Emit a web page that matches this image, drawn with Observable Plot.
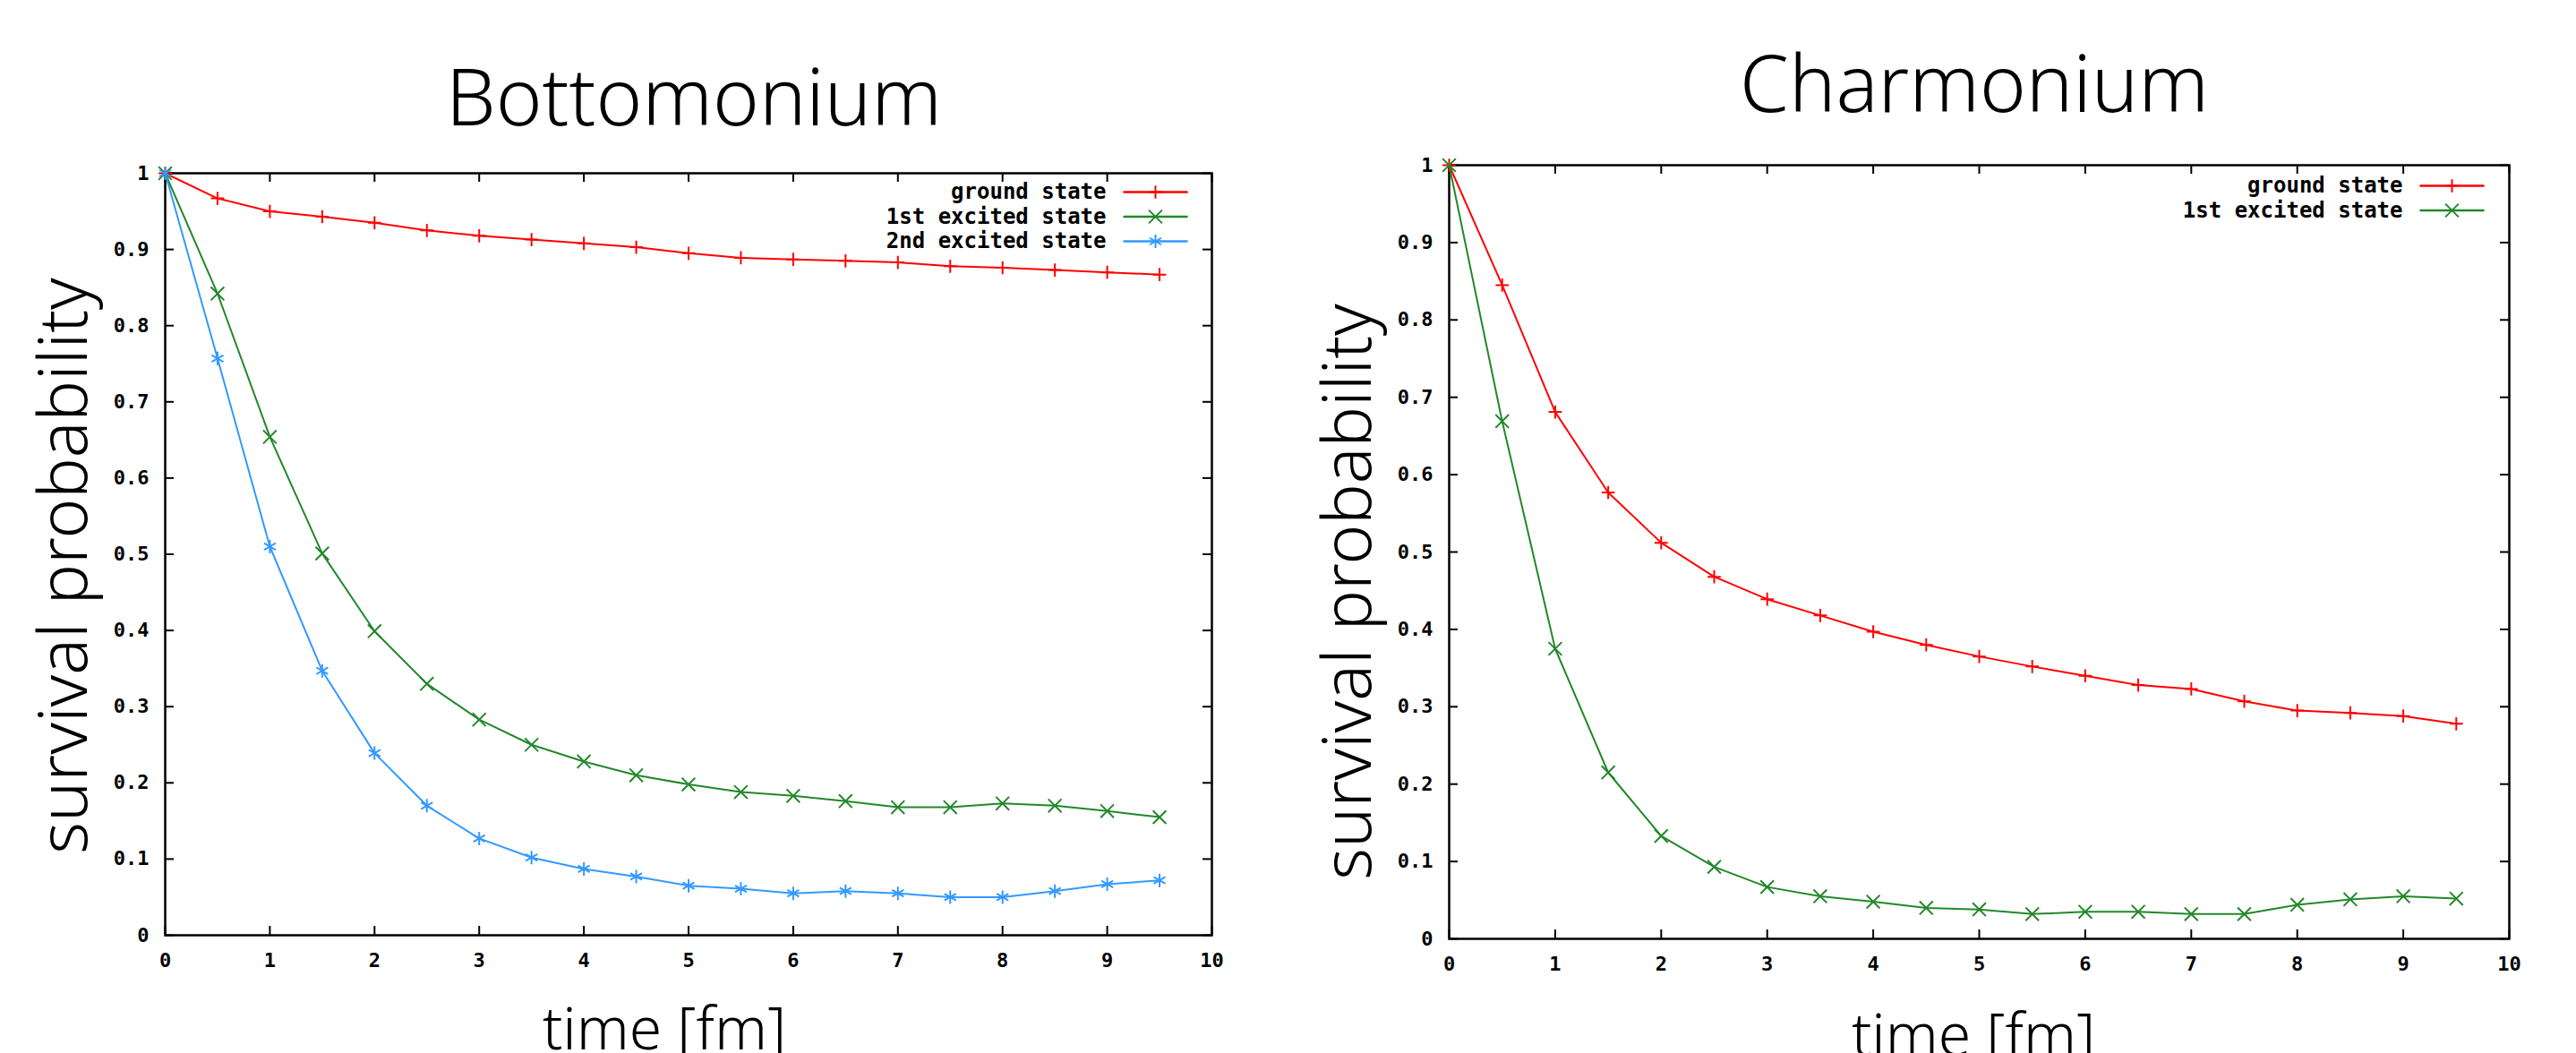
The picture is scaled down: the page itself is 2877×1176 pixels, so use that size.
<!DOCTYPE html>
<html><head><meta charset="utf-8">
<script src="https://cdn.jsdelivr.net/npm/d3@7"></script>
<script src="https://cdn.jsdelivr.net/npm/@observablehq/plot@0.6"></script>
<style>
html,body{margin:0;padding:0;background:#fff;}
#page{position:relative;width:2877px;height:1176px;overflow:hidden;background:#fff;}
.chart{position:absolute;top:0;}
#labels{position:absolute;left:0;top:0;}
#labels text{font-family:"Noto Sans","Open Sans",sans-serif;font-weight:300;fill:#000;}
</style></head><body><div id="page"></div>
<script>
// ---- data ----
const times = [0,0.5,1,1.5,2,2.5,3,3.5,4,4.5,5,5.5,6,6.5,7,7.5,8,8.5,9,9.5];
const bottomGround = [1,0.967,0.950,0.943,0.935,0.925,0.918,0.913,0.908,0.903,0.895,0.889,0.887,0.885,0.883,0.878,0.876,0.873,0.870,0.867];
const bottomFirst  = [1,0.842,0.654,0.501,0.399,0.330,0.283,0.250,0.228,0.210,0.198,0.188,0.183,0.176,0.168,0.168,0.173,0.170,0.163,0.155];
const bottomSecond = [1,0.757,0.510,0.347,0.239,0.170,0.127,0.102,0.087,0.077,0.065,0.061,0.055,0.058,0.055,0.050,0.050,0.058,0.067,0.072];
const charmGround  = [1,0.845,0.681,0.577,0.512,0.468,0.439,0.418,0.397,0.380,0.365,0.352,0.340,0.328,0.323,0.307,0.295,0.292,0.288,0.278];
const charmFirst   = [1,0.669,0.375,0.215,0.133,0.093,0.067,0.055,0.048,0.040,0.038,0.032,0.035,0.035,0.032,0.032,0.044,0.051,0.055,0.052];
const seriesNames = ["ground state","1st excited state","2nd excited state"];
const seriesColors = ["#ff0000","#22882a","#3399ff"];
const seriesSymbols = ["plus","times","asterisk"];
const symbolR = [4.8, 6.8, 7.1];
const xTicks = [0,1,2,3,4,5,6,7,8,9,10];
const yTicks = [0,0.1,0.2,0.3,0.4,0.5,0.6,0.7,0.8,0.9,1];
const titles = ["Bottomonium","Charmonium"];
const xLabel = "time [fm]";
const yLabel = "survival probability";

const lineShape = {draw(ctx, l) { ctx.moveTo(0, 0); ctx.lineTo(0, -l); }};

function tidy(arrays) {
  const rows = [];
  arrays.forEach((vals, s) => vals.forEach((v, i) => rows.push({t: times[i], p: v, s})));
  return rows;
}

function makeChart(arrays, cfg) {
  const rows = tidy(arrays);
  const fw = cfg.width - cfg.ml - cfg.mr, fh = cfg.height - cfg.mt - cfg.mb;
  const tick = 10;
  const mono = {fontSize: 22, fontWeight: "bold", fontFamily: "DejaVu Sans Mono"};
  const marks = [
    Plot.frame({stroke: "#000", strokeWidth: 2.5}),
    Plot.tickX(xTicks, {x: d => d, insetTop: fh - tick, stroke: "#000", strokeWidth: 2}),
    Plot.tickX(xTicks, {x: d => d, insetBottom: fh - tick, stroke: "#000", strokeWidth: 2}),
    Plot.tickY(yTicks, {y: d => d, insetRight: fw - tick, stroke: "#000", strokeWidth: 2}),
    Plot.tickY(yTicks, {y: d => d, insetLeft: fw - tick, stroke: "#000", strokeWidth: 2}),
    Plot.axisX(xTicks, {tickSize: 0, tickPadding: cfg.xpad, label: null, tickFormat: d => String(d), ...mono}),
    Plot.axisY(yTicks, {tickSize: 0, tickPadding: cfg.ypad, label: null,
      tickFormat: d => (d === 0 || d === 1) ? String(d) : d.toFixed(1), ...mono}),
  ];
  arrays.forEach((_, s) => {
    const data = rows.filter(r => r.s === s);
    marks.push(Plot.line(data, {x: "t", y: "p", stroke: seriesColors[s], strokeWidth: 2}));
    marks.push(Plot.dot(data, {x: "t", y: "p", symbol: () => seriesSymbols[s], stroke: seriesColors[s], strokeWidth: 2, r: symbolR[s]}));
    // legend
    const dy = cfg.legDy0 + cfg.legStep * s;
    marks.push(Plot.text([seriesNames[s]], {text: d => d, frameAnchor: "top-right", dx: cfg.legText, dy, textAnchor: "end", lineAnchor: "middle",
      fontSize: 24, fontWeight: "bold", fontFamily: "DejaVu Sans Mono", fill: "#000"}));
    marks.push(Plot.vector([0], {frameAnchor: "top-right", dx: cfg.legMid, dy, length: 70, rotate: 90, shape: lineShape, stroke: seriesColors[s], strokeWidth: 2.5}));
    marks.push(Plot.dot([0], {frameAnchor: "top-right", dx: cfg.legMid, dy, symbol: seriesSymbols[s], stroke: seriesColors[s], strokeWidth: 2, r: symbolR[s]}));
  });
  const svg = Plot.plot({
    width: cfg.width, height: cfg.height,
    marginLeft: cfg.ml, marginRight: cfg.mr, marginTop: cfg.mt, marginBottom: cfg.mb,
    x: {domain: [0, 10]}, y: {domain: [0, 1]},
    style: {background: "transparent", fontFamily: "DejaVu Sans Mono", fontSize: "22px", color: "#000", overflow: "visible"},
    marks
  });
  svg.classList.add("chart");
  svg.style.left = cfg.left + "px";
  return svg;
}

const page = document.getElementById("page");
page.appendChild(makeChart([bottomGround, bottomFirst, bottomSecond],
  {left: 0, width: 1420, height: 1110, ml: 184, mr: 67, mt: 193, mb: 66, xpad: 20, ypad: 18, legText: -118, legMid: -63, legDy0: 21, legStep: 27.5}));
page.appendChild(makeChart([charmGround, charmFirst],
  {left: 1440, width: 1437, height: 1110, ml: 178, mr: 75, mt: 184, mb: 62, xpad: 20, ypad: 18, legText: -119, legMid: -64, legDy0: 23, legStep: 27.5}));

// titles and axis titles (outside the plot SVGs)
const NS = "http://www.w3.org/2000/svg";
const lab = document.createElementNS(NS, "svg");
lab.setAttribute("id", "labels");
lab.setAttribute("width", 2877);
lab.setAttribute("height", 1176);
function addText(str, x, y, size, rot) {
  const t = document.createElementNS(NS, "text");
  t.textContent = str;
  t.setAttribute("text-anchor", "middle");
  t.setAttribute("font-size", size);
  t.setAttribute("transform", `translate(${x},${y})${rot ? " rotate(-90)" : ""}`);
  lab.appendChild(t);
}
addText(titles[0], 775, 140, 88, false);
addText(titles[1], 2205, 125, 88, false);
addText(yLabel, 97, 632, 76, true);
addText(yLabel, 1531, 661, 76, true);
addText(xLabel, 742, 1172, 66, false);
addText(xLabel, 2204, 1179, 66, false);
page.appendChild(lab);
</script></body></html>
